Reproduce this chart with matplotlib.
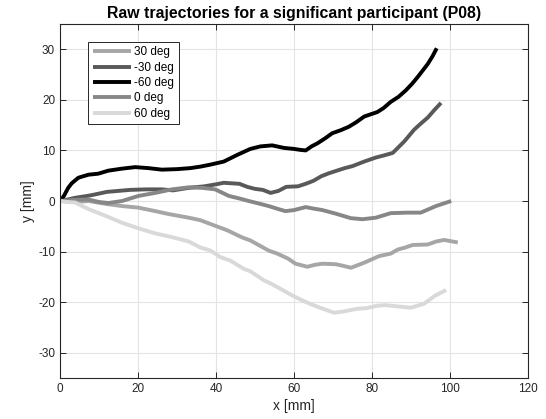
import matplotlib
matplotlib.use("Agg")
import matplotlib.pyplot as plt

plt.rcParams["font.family"] = ["Liberation Sans", "DejaVu Sans"]
plt.rcParams["axes.unicode_minus"] = False

# trajectories, x [mm] / y [mm]
x_30 = [0, 4, 7.3, 12, 15.9, 20, 24.4, 28, 33, 36, 39.8, 42.9, 46.7, 48.8, 53.5, 55.7,
        58.5, 60.4, 63.4, 65.5, 67.3, 70.7, 72.5, 74.6, 78, 81.8, 84.8, 86.6, 88.5, 90.4,
        94.3, 96.5, 98.5, 102]
y_30 = [0, -0.2, 0, -0.6, -1.0, -1.3, -2.0, -2.6, -3.3, -3.8, -4.9, -5.8, -7.2, -7.8, -9.8,
        -10.4, -11.4, -12.4, -13.0, -12.6, -12.4, -12.5, -12.8, -13.2, -12.2, -10.9, -10.4,
        -9.6, -9.2, -8.7, -8.6, -8.0, -7.7, -8.2]

x_m30 = [0, 2, 4, 7, 9, 12, 15, 18, 22, 26, 29, 33, 37, 40, 42, 44, 46, 48, 50, 52, 54,
         56, 58, 61, 63, 65, 67, 69, 71, 73, 75, 78, 81, 83, 85.3, 87, 88.3, 90.8, 92.5,
         94.3, 96, 97.7]
y_m30 = [0, 0.3, 0.65, 1.0, 1.3, 1.8, 2.0, 2.2, 2.3, 2.3, 2.1, 2.6, 2.9, 3.3, 3.6, 3.5,
         3.4, 2.8, 2.4, 2.2, 1.6, 2.0, 2.8, 2.9, 3.4, 4.0, 4.9, 5.5, 6.0, 6.5, 6.9, 7.8,
         8.6, 9.0, 9.5, 10.8, 11.8, 14.1, 15.3, 16.5, 18.0, 19.4]

x_m60 = [0, 1, 2.1, 3, 4.7, 7.3, 9.8, 12.4, 15.9, 19.3, 22.7, 26.1, 30, 33.4, 36, 38.6,
         42, 45.4, 48.8, 51.4, 54.4, 57.4, 60, 61.7, 63, 64.5, 66, 68, 69.8, 72, 74.1, 76,
         78, 79.5, 81.4, 83, 84.8, 86.8, 88.7, 90.3, 91.7, 93, 94.3, 95.5, 96.6]
y_m60 = [0, 1.0, 2.6, 3.5, 4.6, 5.2, 5.4, 6.0, 6.4, 6.7, 6.5, 6.2, 6.3, 6.5, 6.8, 7.2,
         7.8, 9.1, 10.3, 10.8, 11.0, 10.5, 10.3, 10.1, 10.0, 10.8, 11.4, 12.4, 13.4, 14.0,
         14.7, 15.6, 16.7, 17.1, 17.6, 18.4, 19.6, 20.6, 21.9, 23.2, 24.5, 25.8, 27.1,
         28.6, 30.2]

x_0 = [0, 3, 7.3, 10, 12.4, 15.9, 20.1, 24.4, 28.7, 33, 36.4, 39.8, 43.3, 46, 48.4, 51,
       53.5, 56, 57.8, 60, 63, 65, 67.3, 70.7, 74.6, 77.6, 81, 84.8, 89.1, 92.5, 96.4,
       100.3]
y_0 = [0, 0.2, 0.3, -0.2, -0.4, 0, 1.0, 1.6, 2.3, 2.7, 2.6, 2.3, 1.0, 0.5, 0, -0.5, -1.0,
       -1.6, -2.0, -1.8, -1.2, -1.5, -1.8, -2.5, -3.4, -3.6, -3.3, -2.4, -2.3, -2.3, -1.0,
       0]

x_60 = [0, 2, 3.9, 7.3, 11.6, 15.9, 20.1, 24.4, 28.5, 33, 36, 38.6, 41.1, 43.7, 47.1,
        48.8, 52.3, 54, 56.6, 59.6, 62, 64.3, 67, 70.3, 73, 76.3, 78.5, 81.4, 83.5, 86.1,
        90, 93.4, 96, 99]
y_60 = [0, -0.2, -0.3, -1.6, -2.9, -4.3, -5.4, -6.4, -7.1, -8.0, -9.2, -9.8, -11.1,
        -11.8, -13.4, -13.9, -15.7, -16.3, -17.4, -18.7, -19.6, -20.4, -21.2, -22.1,
        -21.8, -21.3, -21.2, -20.7, -20.6, -20.8, -21.1, -20.3, -18.8, -17.6]

series = [
    ("30 deg", x_30, y_30, "#a6a6a6"),
    ("-30 deg", x_m30, y_m30, "#595959"),
    ("-60 deg", x_m60, y_m60, "#000000"),
    ("0 deg", x_0, y_0, "#878787"),
    ("60 deg", x_60, y_60, "#d9d9d9"),
]

fig = plt.figure(figsize=(5.46, 4.19), dpi=100)
ax = fig.add_axes([60 / 546, 1 - 378 / 419, 468 / 546, 354 / 419])

for label, xs, ys, c in series:
    ax.plot(xs, ys, color=c, lw=2.8, label=label, solid_capstyle="butt")

ax.set_xlim(0, 120)
ax.set_ylim(-35, 35)
ax.set_xticks(range(0, 121, 20))
ax.set_yticks(range(-30, 31, 10))
ax.grid(True, color="#e3e3e3", lw=0.8)
ax.set_axisbelow(True)

edge = "#262626"
for s in ax.spines.values():
    s.set_color(edge)
    s.set_linewidth(0.8)
ax.tick_params(direction="in", length=4, width=0.7, top=True, right=True,
               colors=edge, labelsize=8.5, labelcolor="#262626")

ax.set_xlabel("x [mm]", fontsize=10, color="#262626", labelpad=3)
ax.set_ylabel("y [mm]", fontsize=10, color="#262626", labelpad=2)
ax.set_title("Raw trajectories for a significant participant (P08)", fontsize=11.4,
             fontweight="bold", color="black", pad=4)

leg = ax.legend(loc="upper left", bbox_to_anchor=(0.06, 0.95), fontsize=8.5,
                handlelength=3.2, handletextpad=0.3, labelspacing=0.28,
                borderpad=0.4, borderaxespad=0, fancybox=False, framealpha=1)
leg.get_frame().set_edgecolor("#262626")
leg.get_frame().set_linewidth(0.7)

fig.savefig("out.png", dpi=100)
